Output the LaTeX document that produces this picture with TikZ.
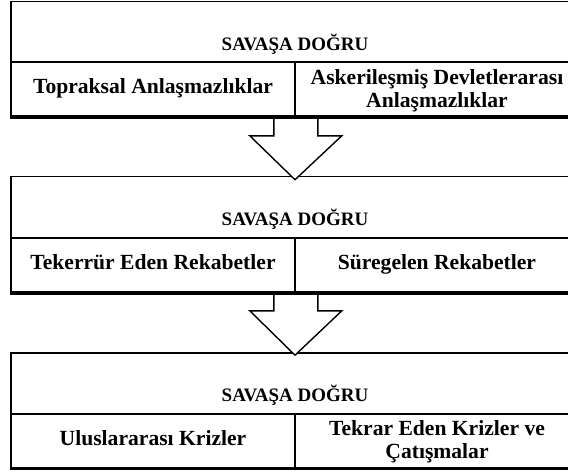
\documentclass[tikz,border=0pt]{standalone}
\usepackage{fontspec}
\setmainfont{Liberation Serif}
\tikzset{
  frame/.style={draw, line width=1.6pt, inner sep=0pt},
  header/.style={frame, minimum width=568pt, minimum height=61pt, text height=40pt, text depth=4pt, font=\fontsize{19}{22}\selectfont\bfseries},
  cell/.style={frame, minimum width=284pt, minimum height=54pt, align=center, text height=14pt, text depth=5pt, font=\fontsize{21.6}{23}\selectfont\bfseries},
  twoline/.style={cell, text height=41pt, text depth=5pt},
  blockarrow/.style={draw, fill=white, line width=1.4pt, line join=miter},
  shadowline/.style={line width=3.5pt}
}
\begin{document}
\begin{tikzpicture}[x=1pt,y=-1pt]
        \useasboundingbox (0,0) rectangle (568,472);
        \clip (0,0) rectangle (568,472);

        % first level
        \node[header] (h1) at (295,32) {SAVAŞA DOĞRU};
        \node[cell] (l1) at (153,89) {Topraksal Anlaşmazlıklar};
        \node[twoline] (r1) at (437,89) {Askerileşmiş Devletlerarası\\Anlaşmazlıklar};

        % second level
        \node[header] (h2) at (295,207) {SAVAŞA DOĞRU};
        \node[cell] (l2) at (153,265) {Tekerrür Eden Rekabetler};
        \node[cell] (r2) at (437,265) {Süregelen Rekabetler};

        % third level
        \node[header] (h3) at (295,383.5) {SAVAŞA DOĞRU};
        \node[cell] (l3) at (153,440.5) {Uluslararası Krizler};
        \node[twoline] (r3) at (437,440.5) {Tekrar Eden Krizler ve\\Çatışmalar};

        % arrows
        \coordinate (a1) at ([yshift=-19pt]l1.south east);
        \draw[blockarrow] ([xshift=-22pt]l1.south east) -- ([xshift=-22pt]a1) -- ([xshift=-46pt]a1)
            -- ([yshift=-4pt]h2.north) -- ([xshift=46pt]a1) -- ([xshift=22pt]a1) -- ([xshift=22pt]l1.south east);
        \coordinate (a2) at ([yshift=-18pt]l2.south east);
        \draw[blockarrow] ([xshift=-22pt]l2.south east) -- ([xshift=-22pt]a2) -- ([xshift=-46pt]a2)
            -- ([yshift=-3pt]h3.north) -- ([xshift=46pt]a2) -- ([xshift=22pt]a2) -- ([xshift=22pt]l2.south east);

        % heavier bottom edges
        \draw[shadowline] (l1.south west) -- (r1.south east);
        \draw[shadowline] (l2.south west) -- (r2.south east);
        \draw[shadowline] (l3.south west) -- (r3.south east);

    \end{tikzpicture}
\end{document}
